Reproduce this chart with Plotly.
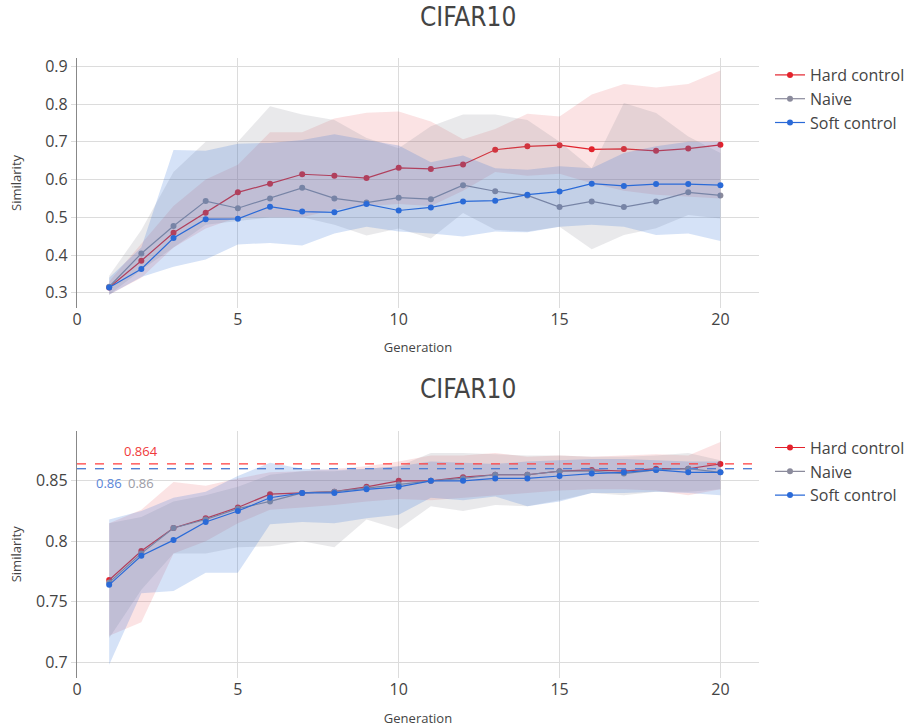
import plotly.graph_objects as go
from plotly.subplots import make_subplots

generations = list(range(1, 21))
series_names = ["Hard control", "Naive", "Soft control"]
line_colors = ["#e3222c", "#8b8b9c", "#2a6ad8"]
fill_colors = ["rgba(225,40,45,0.13)", "rgba(140,140,150,0.19)", "rgba(45,110,215,0.20)"]

# ---- top panel (CIFAR10) ----
top_mean_hard = [0.314, 0.385, 0.459, 0.512, 0.566, 0.589, 0.614, 0.610, 0.604, 0.631,
                 0.628, 0.640, 0.679, 0.688, 0.691, 0.680, 0.681, 0.676, 0.682, 0.692]
top_mean_naive = [0.316, 0.404, 0.477, 0.543, 0.524, 0.550, 0.578, 0.550, 0.539, 0.552,
                  0.548, 0.585, 0.569, 0.558, 0.527, 0.542, 0.527, 0.542, 0.566, 0.558]
top_mean_soft = [0.314, 0.363, 0.445, 0.495, 0.496, 0.528, 0.515, 0.513, 0.535, 0.518,
                 0.526, 0.542, 0.544, 0.560, 0.568, 0.589, 0.583, 0.588, 0.588, 0.585]

top_up_hard = [0.330, 0.430, 0.530, 0.600, 0.639, 0.725, 0.725, 0.762, 0.777, 0.780,
               0.754, 0.707, 0.734, 0.774, 0.767, 0.825, 0.853, 0.844, 0.853, 0.889]
top_lo_hard = [0.295, 0.340, 0.420, 0.470, 0.500, 0.500, 0.500, 0.520, 0.530, 0.535,
               0.530, 0.570, 0.620, 0.610, 0.615, 0.590, 0.570, 0.560, 0.555, 0.550]
top_up_naive = [0.345, 0.466, 0.620, 0.700, 0.700, 0.794, 0.772, 0.758, 0.710, 0.683,
                0.741, 0.772, 0.772, 0.758, 0.700, 0.630, 0.803, 0.776, 0.714, 0.670]
top_lo_naive = [0.295, 0.360, 0.420, 0.480, 0.490, 0.500, 0.500, 0.480, 0.452, 0.470,
                0.444, 0.511, 0.467, 0.462, 0.475, 0.415, 0.453, 0.471, 0.506, 0.497]
top_up_soft = [0.340, 0.420, 0.678, 0.676, 0.695, 0.697, 0.705, 0.720, 0.705, 0.690,
               0.646, 0.664, 0.630, 0.626, 0.635, 0.630, 0.670, 0.688, 0.700, 0.700]
top_lo_soft = [0.295, 0.342, 0.369, 0.388, 0.428, 0.432, 0.425, 0.457, 0.475, 0.462,
               0.457, 0.449, 0.462, 0.460, 0.475, 0.480, 0.475, 0.453, 0.457, 0.437]

# ---- bottom panel (CIFAR10) ----
bot_mean_hard = [0.768, 0.792, 0.811, 0.819, 0.828, 0.839, 0.840, 0.841, 0.845, 0.850,
                 0.850, 0.853, 0.855, 0.855, 0.858, 0.859, 0.858, 0.860, 0.860, 0.864]
bot_mean_naive = [0.766, 0.790, 0.811, 0.818, 0.827, 0.833, 0.840, 0.841, 0.844, 0.847,
                  0.850, 0.852, 0.855, 0.855, 0.858, 0.858, 0.856, 0.859, 0.860, 0.857]
bot_mean_soft = [0.764, 0.788, 0.801, 0.816, 0.825, 0.836, 0.840, 0.840, 0.843, 0.845,
                 0.850, 0.850, 0.852, 0.852, 0.854, 0.856, 0.857, 0.859, 0.857, 0.857]

bot_up_hard = [0.815, 0.826, 0.849, 0.846, 0.852, 0.857, 0.858, 0.860, 0.862, 0.866,
               0.871, 0.871, 0.873, 0.870, 0.871, 0.870, 0.871, 0.872, 0.871, 0.882]
bot_lo_hard = [0.722, 0.733, 0.790, 0.800, 0.815, 0.826, 0.828, 0.830, 0.833, 0.835,
               0.834, 0.836, 0.838, 0.840, 0.842, 0.843, 0.843, 0.842, 0.838, 0.843]
bot_up_naive = [0.815, 0.820, 0.833, 0.838, 0.845, 0.855, 0.858, 0.858, 0.860, 0.862,
                0.873, 0.873, 0.872, 0.871, 0.871, 0.870, 0.870, 0.871, 0.873, 0.867]
bot_lo_naive = [0.720, 0.760, 0.790, 0.790, 0.795, 0.796, 0.800, 0.795, 0.818, 0.810,
                0.829, 0.825, 0.830, 0.829, 0.834, 0.840, 0.838, 0.841, 0.841, 0.843]
bot_up_soft = [0.818, 0.825, 0.836, 0.841, 0.854, 0.865, 0.860, 0.859, 0.860, 0.862,
               0.866, 0.865, 0.864, 0.866, 0.867, 0.868, 0.868, 0.867, 0.866, 0.866]
bot_lo_soft = [0.698, 0.757, 0.759, 0.774, 0.774, 0.814, 0.816, 0.815, 0.819, 0.822,
               0.836, 0.834, 0.837, 0.829, 0.833, 0.840, 0.840, 0.841, 0.840, 0.838]

best_values = [0.864, 0.86, 0.86]
best_labels = ["0.864", "0.86", "0.86"]
best_label_x = [2, 1, 2]
best_label_colors = ["#f03a3a", "#5a86d8", "#9c9ca6"]
dash_colors = ["#ff3d3d", "#9c9ca6", "#4f7fd8"]

panel_title = "CIFAR10"
x_title = "Generation"
y_title = "Similarity"

fig = make_subplots(rows=2, cols=1, vertical_spacing=0.2)

top = [(top_mean_hard, top_up_hard, top_lo_hard),
       (top_mean_naive, top_up_naive, top_lo_naive),
       (top_mean_soft, top_up_soft, top_lo_soft)]
bot = [(bot_mean_hard, bot_up_hard, bot_lo_hard),
       (bot_mean_naive, bot_up_naive, bot_lo_naive),
       (bot_mean_soft, bot_up_soft, bot_lo_soft)]

for row, data, leg in [(1, top, "legend"), (2, bot, "legend2")]:
    for i, (m, up, lo) in enumerate(data):
        fig.add_trace(go.Scatter(x=generations, y=m, mode="lines+markers", name=series_names[i],
                                 line=dict(color=line_colors[i], width=1.2),
                                 marker=dict(color=line_colors[i], size=6),
                                 legend=leg, showlegend=True), row=row, col=1)
        fig.add_trace(go.Scatter(x=generations, y=lo, mode="lines", line=dict(width=0),
                                 showlegend=False, hoverinfo="skip", legend=leg), row=row, col=1)
        fig.add_trace(go.Scatter(x=generations, y=up, mode="lines", line=dict(width=0),
                                 fill="tonexty", fillcolor=fill_colors[i],
                                 showlegend=False, hoverinfo="skip", legend=leg), row=row, col=1)

# dashed best lines (bottom)
for i in [1, 2, 0]:
    fig.add_shape(type="line", xref="x2 domain", yref="y2", x0=0, x1=1,
                  y0=best_values[i], y1=best_values[i],
                  line=dict(color=dash_colors[i], width=1.3, dash="dash"))
for i in range(3):
    fig.add_annotation(x=best_label_x[i], y=best_values[i], xref="x2", yref="y2",
                       text=best_labels[i], showarrow=False,
                       yanchor="bottom" if i == 0 else "top",
                       yshift=2 if i == 0 else -3,
                       font=dict(size=13, color=best_label_colors[i]))

axis_common = dict(showgrid=True, gridcolor="#dcdcdc", gridwidth=1, zeroline=False,
                   automargin=False,
                   tickfont=dict(size=16, color="#444"),
                   title_font=dict(size=13, color="#444"))
fig.update_xaxes(**axis_common, range=[0, 21.2], dtick=5, ticks="", showline=False,
                 title_text=x_title, title_standoff=14)
fig.update_yaxes(**axis_common, showline=True, linecolor="#888", linewidth=1.3,
                 ticks="outside", ticklen=5, tickcolor="#dcdcdc",
                 title_text=y_title)
fig.update_yaxes(range=[0.260, 0.922], dtick=0.1, title_standoff=20, row=1, col=1)
fig.update_yaxes(range=[0.687, 0.8915], dtick=0.05, title_standoff=11, row=2, col=1)

fig.update_layout(
    xaxis=dict(domain=[0, 1]), yaxis=dict(domain=[0.597, 1.0]),
    xaxis2=dict(domain=[0, 1]), yaxis2=dict(domain=[0.0, 0.399]),
)

# titles
title_font = dict(family="Liberation Sans Narrow, DejaVu Sans Condensed, Arial Narrow, sans-serif",
                  size=26, color="#444")
fig.add_annotation(text=panel_title, xref="paper", yref="paper", x=0.573, y=1.0,
                   yshift=58, showarrow=False, font=title_font, yanchor="top")
fig.add_annotation(text=panel_title, xref="paper", yref="paper", x=0.573, y=0.399,
                   yshift=59, showarrow=False, font=title_font, yanchor="top")

leg_common = dict(xref="container", x=770 / 915, xanchor="left", yanchor="top",
                  font=dict(size=16, color="#444"),
                  bgcolor="rgba(0,0,0,0)", tracegroupgap=0, traceorder="normal")
fig.update_layout(
    width=915, height=728,
    margin=dict(l=77, r=156, t=58, b=50, autoexpand=False),
    plot_bgcolor="white", paper_bgcolor="white",
    font=dict(family="Open Sans, sans-serif", color="#444"),
    legend=dict(**leg_common, y=1.0),
    legend2=dict(**leg_common, y=0.399),
)

fig.write_html("out.html")
